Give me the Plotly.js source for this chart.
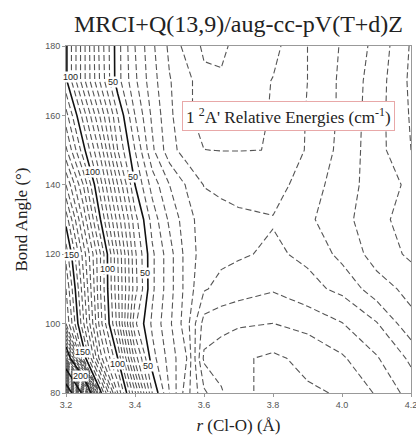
<!DOCTYPE html>
<html>
<head>
<meta charset="utf-8">
<script src="https://cdn.plot.ly/plotly-3.0.1.min.js"></script>
<style>html,body{margin:0;padding:0;background:#fff;}#chart{width:416px;height:438px;}</style>
</head>
<body>
<div id="chart"></div>
<script>
// Cl-O distance (Å) grid and bond angle (deg) grid
const rClO = [3.20, 3.25, 3.30, 3.35, 3.40, 3.45, 3.50, 3.55, 3.60, 3.65, 3.70, 3.80, 3.90, 4.00, 4.10, 4.20];
const bondAngle = [80, 90, 100, 110, 120, 130, 140, 150, 160, 170, 180];

// Relative energies (cm^-1), one row per bond angle
const energyAt80  = [330, 240, 152, 115, 86, 55, 40, 27, 16, 10.6, 6.2, 3.5, 4.2, 5.5, 10.5, 17];
const energyAt90  = [215, 155, 122, 100, 68, 47, 38, 30, 9, 7.5, 5.8, 4.0, 6.5, 9.3, 14.5, 21];
const energyAt100 = [170, 141, 112, 88, 56, 44, 36, 27, 13, 11.5, 10.6, 9.95, 11.5, 14.8, 19.6, 28.5];
const energyAt110 = [165, 137, 110, 86, 62, 46, 37, 28, 20.5, 18.5, 17.3, 15.5, 18.5, 21.2, 27.8, 31.5];
const energyAt120 = [158, 133, 110, 85, 61, 46, 37, 28, 22.5, 21.2, 20.6, 19.2, 21, 26.5, 32, 36];
const energyAt130 = [148, 124, 100, 78, 57, 43, 34, 27, 22.5, 21.5, 20.8, 20.3, 24, 28.5, 33, 38];
const energyAt140 = [135, 115, 92, 70, 50, 38, 30, 24.5, 19.8, 19, 18.5, 17.8, 22.5, 27.5, 32.5, 36];
const energyAt150 = [121, 102, 83, 60, 45, 31, 22, 17.5, 15.05, 14.9, 14.9, 15.05, 20.5, 26.5, 33, 40];
const energyAt160 = [112, 93, 74, 55, 40, 29, 21, 16, 13, 12, 12, 15.5, 20.3, 26, 33, 40.5];
const energyAt170 = [101, 82, 64, 47, 36, 27, 20.3, 17, 11, 10.6, 12, 15.2, 20, 26, 32.5, 41];
const energyAt180 = [101, 82, 63, 47, 35, 26, 19, 13, 9.2, 9.0, 11.5, 13.5, 20, 25.5, 31.5, 40.5];

const energyGrid = [energyAt80, energyAt90, energyAt100, energyAt110, energyAt120, energyAt130,
                    energyAt140, energyAt150, energyAt160, energyAt170, energyAt180];

// contour levels
const minorStep = 5;
const majorStep = 50;
const majorLevelsMax = 300;
const xTickVals = [3.2, 3.4, 3.6, 3.8, 4.0, 4.2];
const yTickVals = [80, 100, 120, 140, 160, 180];

// contour label texts and where they sit on the solid lines
const labelTexts = ['100', '50', '100', '50', '150', '100', '50', '150', '100', '50', '200'];
const labelR     = [3.212, 3.336, 3.278, 3.394, 3.217, 3.319, 3.429, 3.249, 3.348, 3.438, 3.241];
const labelAngle = [171.0, 169.6, 143.7, 142.2, 119.8, 115.7, 114.6, 91.8, 88.4, 87.8, 84.9];

const serif = "'Liberation Serif', 'Times New Roman', serif";
const sans = "'Liberation Sans', Arial, sans-serif";

const traces = [];
for (let k = 0; k * majorStep < majorLevelsMax + majorStep; k++) {
  traces.push({
    type: 'contour', x: rClO, y: bondAngle, z: energyGrid,
    autocontour: false,
    contours: {start: k * majorStep + minorStep, end: k * majorStep + majorStep - minorStep, size: minorStep, coloring: 'none'},
    line: {color: '#555', width: 1.1, dash: '6px,3px', smoothing: 0},
    showscale: false, hoverinfo: 'skip'
  });
}
traces.push({
  type: 'contour', x: rClO, y: bondAngle, z: energyGrid,
  autocontour: false,
  contours: {start: majorStep, end: majorLevelsMax, size: majorStep, coloring: 'none', showlabels: false},
  line: {color: '#111', width: 1.6, smoothing: 0},
  showscale: false, hoverinfo: 'skip'
});

const annotations = labelTexts.map((t, i) => ({
  xref: 'x', yref: 'y', x: labelR[i], y: labelAngle[i], xanchor: 'center', yanchor: 'middle',
  text: t, showarrow: false, font: {family: sans, size: 9, color: '#222'},
  bgcolor: '#fff', borderpad: 0
}));
annotations.push({
  xref: 'x', yref: 'y', x: 3.846, y: 159.7, xanchor: 'center', yanchor: 'middle',
  text: "1 <sup>2</sup>A' Relative Energies (cm<sup>-1</sup>)",
  showarrow: false, font: {family: serif, size: 17, color: '#222'},
  bgcolor: '#fff', bordercolor: '#e8a8a8', borderwidth: 1, borderpad: 3
});

const layout = {
  width: 416, height: 438,
  margin: {l: 66, r: 5, t: 46, b: 45},
  paper_bgcolor: '#fff', plot_bgcolor: '#fff',
  showlegend: false,
  title: {text: 'MRCI+Q(13,9)/aug-cc-pV(T+d)Z', font: {family: serif, size: 24, color: '#222'},
          x: 0.5, xref: 'paper', xanchor: 'center', y: 0.945, yref: 'container', yanchor: 'middle'},
  xaxis: {range: [3.2, 4.2], tickvals: xTickVals, tickformat: '.1f', ticklabeloverflow: 'allow',
          showgrid: false, zeroline: false, showline: true, mirror: true, linecolor: '#999', linewidth: 1,
          ticks: 'outside', ticklen: 3, tickcolor: '#999',
          tickfont: {family: sans, size: 9, color: '#555'},
          title: {text: '<i>r</i> (Cl-O) (Å)', font: {family: serif, size: 17, color: '#222'}, standoff: 10}},
  yaxis: {range: [80, 180], tickvals: yTickVals,
          showgrid: false, zeroline: false, showline: true, mirror: true, linecolor: '#999', linewidth: 1,
          ticks: 'outside', ticklen: 3, tickcolor: '#999',
          tickfont: {family: sans, size: 9, color: '#555'},
          title: {text: 'Bond Angle (°)', font: {family: serif, size: 17, color: '#222'}, standoff: 13}},
  annotations: annotations
};

Plotly.newPlot('chart', traces, layout, {displayModeBar: false, staticPlot: true});
</script>
</body>
</html>
